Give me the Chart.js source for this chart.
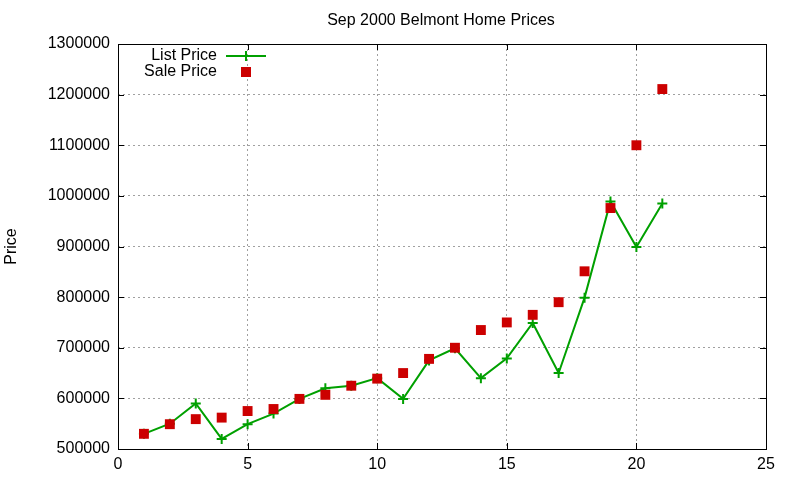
<!DOCTYPE html>
<html>
<head>
<meta charset="utf-8">
<script src="https://cdn.jsdelivr.net/npm/chart.js@4"></script>
<style>
  body { margin: 0; background: #fff; }
  canvas { display: block; }
</style>
</head>
<body>
<canvas id="prices" width="800" height="480"></canvas>
<script>
// house number in the listing (x) and prices
const houses = [1, 2, 3, 4, 5, 6, 7, 8, 9, 10, 11, 12, 13, 14, 15, 16, 17, 18, 19, 20, 21];
const listPrice = [530000, 550000, 590000, 520000, 549000, 570000, 599000, 620000, 625000, 640000,
                   599000, 675000, 699000, 640000, 679000, 749000, 650000, 799000, 989000, 899000, 985000];
const salePrice = [530000, 549000, 559000, 562000, 575000, 579000, 599000, 607000, 625000, 639000,
                   650000, 678000, 700000, 735000, 750000, 765000, 790000, 851000, 976000, 1100000, 1211000];
const xTicks = [0, 5, 10, 15, 20, 25];
const yTicks = [500000, 600000, 700000, 800000, 900000, 1000000, 1100000, 1200000, 1300000];

const FONT = '"Liberation Sans", Arial, sans-serif';
const GREEN = '#00a000';
const RED = '#cc0000';

const toPoints = (xs, ys) => xs.map((x, i) => ({ x: x, y: ys[i] }));

// gnuplot look: full border, inward ticks on all sides, title, y label and key
const gnuplotFrame = {
    id: 'gnuplotFrame',
    afterDraw(chart) {
        const c = chart.ctx;
        const a = chart.chartArea;
        const xs = chart.scales.x;
        const ys = chart.scales.y;
        c.save();
        c.strokeStyle = '#000';
        c.lineWidth = 1;
        c.beginPath();
        xTicks.forEach(v => {
            const px = Math.round(xs.getPixelForValue(v)) + 0.5;
            c.moveTo(px, a.bottom); c.lineTo(px, a.bottom - 6);
            c.moveTo(px, a.top); c.lineTo(px, a.top + 6);
        });
        yTicks.forEach(v => {
            const py = Math.round(ys.getPixelForValue(v)) + 0.5;
            c.moveTo(a.left, py); c.lineTo(a.left + 6, py);
            c.moveTo(a.right, py); c.lineTo(a.right - 6, py);
        });
        c.stroke();
        c.strokeRect(Math.round(a.left) + 0.5, Math.round(a.top) + 0.5,
                     Math.round(a.right - a.left), Math.round(a.bottom - a.top));

        c.fillStyle = '#000';
        c.font = '16px ' + FONT;
        c.textAlign = 'center';
        c.textBaseline = 'middle';
        c.fillText('Sep 2000 Belmont Home Prices', 441, 21);

        c.save();
        c.translate(12, (a.top + a.bottom) / 2);
        c.rotate(-Math.PI / 2);
        c.fillText('Price', 0, 0);
        c.restore();

        // key, top left inside the plot
        c.textAlign = 'right';
        c.fillText('List Price', 217, 56);
        c.fillText('Sale Price', 217, 72);
        c.strokeStyle = GREEN;
        c.lineWidth = 2;
        c.beginPath();
        c.moveTo(226, 56); c.lineTo(266, 56);
        c.moveTo(246, 51); c.lineTo(246, 61);
        c.stroke();
        c.fillStyle = RED;
        c.fillRect(241, 67, 10, 10);
        c.restore();
    }
};

const config = {
    type: 'scatter',
    data: {
        datasets: [{
            label: 'List Price',
            data: toPoints(houses, listPrice),
            showLine: true,
            borderColor: GREEN,
            backgroundColor: GREEN,
            borderWidth: 2,
            pointStyle: 'cross',
            pointRadius: 5,
            pointBorderWidth: 2,
            order: 2
        }, {
            label: 'Sale Price',
            data: toPoints(houses, salePrice),
            showLine: false,
            borderColor: RED,
            backgroundColor: RED,
            pointStyle: 'rect',
            pointRadius: 7,
            borderWidth: 0,
            order: 1
        }]
    },
    options: {
        responsive: false,
        animation: false,
        layout: { padding: { top: 44, right: 34, left: 0, bottom: 0 } },
        plugins: {
            legend: { display: false },
            title: { display: false },
            tooltip: { enabled: false }
        },
        scales: {
            x: {
                type: 'linear',
                min: 0,
                max: 25,
                afterBuildTicks: s => { s.ticks = xTicks.map(v => ({ value: v })); },
                afterFit: s => { s.height = 31; },
                border: { display: false, dash: [2, 3] },
                grid: {
                    drawTicks: false,
                    color: '#a0a0a0',
                    lineWidth: 1
                },
                ticks: { color: '#000', padding: 6, font: { family: FONT, size: 16 } }
            },
            y: {
                min: 500000,
                max: 1300000,
                afterBuildTicks: s => { s.ticks = yTicks.map(v => ({ value: v })); },
                afterFit: s => { s.width = 118; },
                border: { display: false, dash: [2, 3] },
                grid: {
                    drawTicks: false,
                    color: '#a0a0a0',
                    lineWidth: 1
                },
                ticks: {
                    color: '#000',
                    padding: 8,
                    font: { family: FONT, size: 16 },
                    callback: v => String(v)
                }
            }
        }
    },
    plugins: [gnuplotFrame]
};

new Chart(document.getElementById('prices').getContext('2d'), config);
</script>
</body>
</html>
